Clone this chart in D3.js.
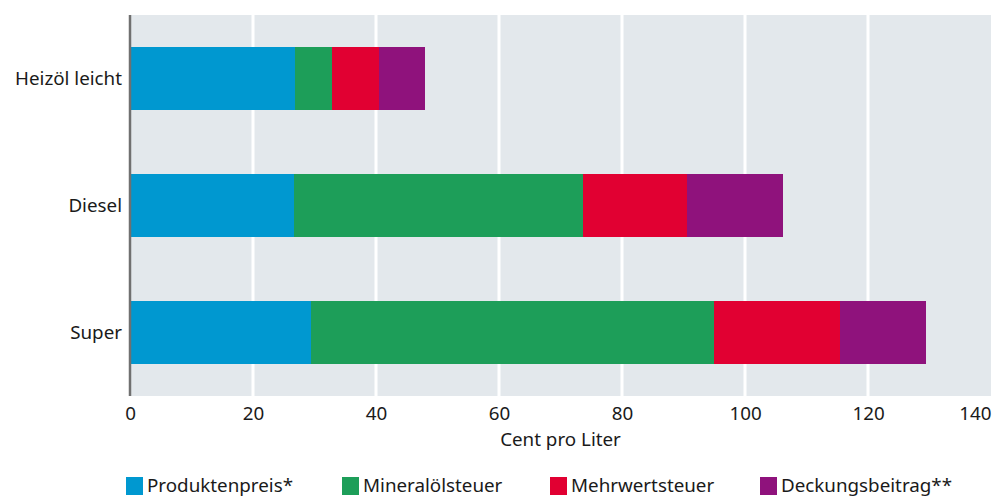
<!DOCTYPE html>
<html>
<head>
<meta charset="utf-8">
<script src="https://cdn.jsdelivr.net/npm/d3@7"></script>
<style>
  html, body { margin: 0; padding: 0; background: #fff; }
  svg text { font-family: "Noto Sans", "Open Sans", sans-serif; fill: #1a1a1a; }
</style>
</head>
<body>
<svg id="chart" width="994" height="498"></svg>
<script>
// Fuel categories, top to bottom
const categories = ["Heizöl leicht", "Diesel", "Super"];
// Price components in cent per litre, one array per series
const produktenpreis = [26.8, 26.6, 29.5];
const mineraloelsteuer = [6.0, 47.0, 65.5];
const mehrwertsteuer = [7.7, 16.9, 20.5];
const deckungsbeitrag = [7.4, 15.6, 13.9];
const seriesNames = ["Produktenpreis*", "Mineralölsteuer", "Mehrwertsteuer", "Deckungsbeitrag**"];
const seriesColors = ["#0098d0", "#1d9e59", "#e10032", "#8f127c"];
const xTicks = [0, 20, 40, 60, 80, 100, 120, 140];
const xTitle = "Cent pro Liter";

const seriesValues = [produktenpreis, mineraloelsteuer, mehrwertsteuer, deckungsbeitrag];
const rows = categories.map((c, i) => {
  const r = { cat: c };
  seriesNames.forEach((s, j) => r[s] = seriesValues[j][i]);
  return r;
});

const svg = d3.select("#chart");
const plotL = 130, plotR = 991, plotT = 15, plotB = 396;
const fs = 18.8;

const x = d3.scaleLinear().domain([0, 140]).range([plotL, plotR]);
const y = d3.scaleBand().domain(categories).range([plotT, plotB])
  .paddingInner(0.5).paddingOuter(0.25);

// plot background
svg.append("rect").attr("x", plotL).attr("y", plotT)
  .attr("width", plotR - plotL).attr("height", plotB - plotT)
  .attr("fill", "#e3e8ec");

// vertical white gridlines
svg.append("g").selectAll("line").data(xTicks.slice(1, -1)).join("line")
  .attr("x1", d => x(d)).attr("x2", d => x(d))
  .attr("y1", plotT).attr("y2", plotB)
  .attr("stroke", "#fff").attr("stroke-width", 3);

// stacked bars
const stack = d3.stack().keys(seriesNames)(rows);
svg.append("g").selectAll("g").data(stack).join("g")
  .attr("fill", (d, i) => seriesColors[i])
  .selectAll("rect").data(d => d).join("rect")
  .attr("x", d => x(d[0]))
  .attr("width", d => x(d[1]) - x(d[0]))
  .attr("y", d => y(d.data.cat))
  .attr("height", y.bandwidth())
  .attr("shape-rendering", "crispEdges");

// left axis line
svg.append("line").attr("x1", plotL).attr("x2", plotL)
  .attr("y1", plotT).attr("y2", plotB)
  .attr("stroke", "#707070").attr("stroke-width", 2.5);

// category labels
const yAxis = d3.axisLeft(y).tickSize(0).tickPadding(8);
const ya = svg.append("g").attr("transform", `translate(${plotL},0)`).call(yAxis);
ya.select(".domain").remove();
ya.selectAll("text").attr("font-size", fs).style("font-family", null);

// x tick labels; the last one is kept inside the plot's right edge
const xAxis = d3.axisBottom(x).tickValues(xTicks).tickSize(0).tickPadding(11);
const xa = svg.append("g").attr("transform", `translate(0,${plotB})`).call(xAxis);
xa.select(".domain").remove();
xa.selectAll("text").attr("font-size", fs).style("font-family", null);
xa.selectAll(".tick").filter(d => d === xTicks[xTicks.length - 1])
  .select("text").attr("text-anchor", "end");

// x axis title
svg.append("text").attr("x", (plotL + plotR) / 2).attr("y", 446)
  .attr("text-anchor", "middle").attr("font-size", fs).text(xTitle);

// legend
const legendX = [126, 342, 550, 760];
const lg = svg.append("g").selectAll("g").data(seriesNames).join("g")
  .attr("transform", (d, i) => `translate(${legendX[i]},477)`);
lg.append("rect").attr("width", 17).attr("height", 18)
  .attr("fill", (d, i) => seriesColors[i]);
lg.append("text").attr("x", 21).attr("y", 14.5).attr("font-size", fs).text(d => d);
</script>
</body>
</html>
